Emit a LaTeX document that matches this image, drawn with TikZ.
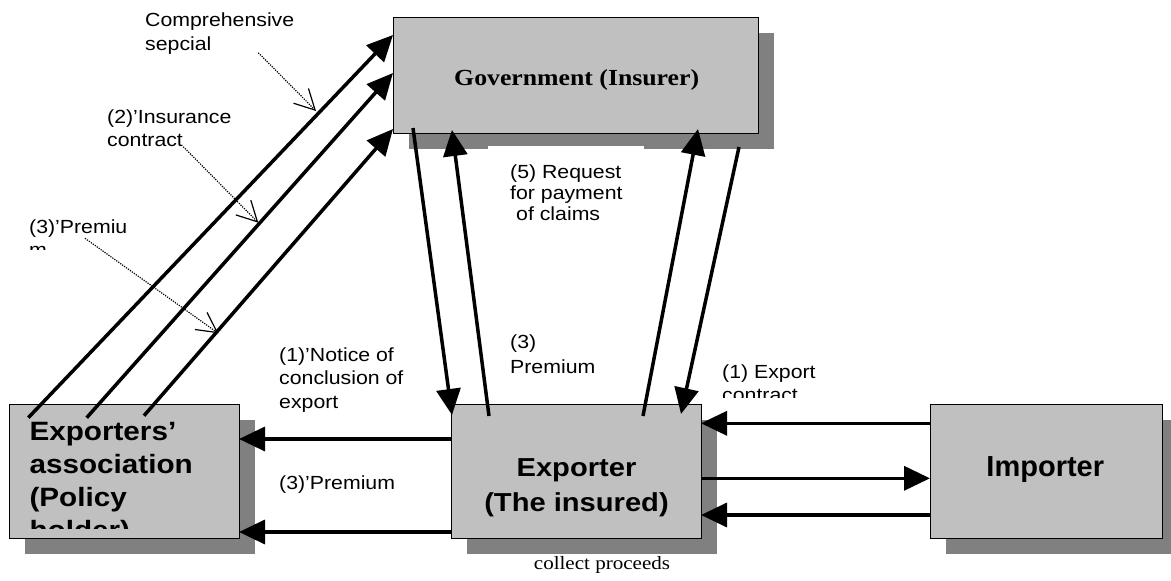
\documentclass[tikz,border=0pt]{standalone}
\usepackage{fontspec}
\setmainfont{Liberation Sans}[FakeStretch=1.12]
\newfontfamily\timesx{Liberation Serif}[FakeStretch=1.12]
\newfontfamily\arialplain{Liberation Sans}
\usetikzlibrary{arrows.meta,calc,shadows}
\definecolor{boxgray}{RGB}{192,192,192}
\definecolor{shadowgray}{RGB}{128,128,128}
\begin{document}
\begin{tikzpicture}[x=1pt,y=-1pt,
  box/.style={draw=black, line width=1pt, fill=boxgray, inner sep=0pt, outer sep=0pt,
    general shadow={fill=shadowgray, shadow xshift=16pt, shadow yshift=-16pt}},
  flow/.style={line width=3.5pt, -{Triangle[length=26pt,width=24pt]}},
  callout/.style={line width=1.2pt, dash pattern=on 1.2pt off 1.2pt, -{Straight Barb[length=20pt,width=21pt]}},
  lbl/.style={font=\fontsize{19}{23.5}\selectfont, inner sep=0pt, align=left, anchor=base west},
]
\path[use as bounding box, clip] (0,0) rectangle (1171,581);

% boxes
\node[box, minimum width=365pt, minimum height=116pt] (gov) at (575.5,75) {};
\node[box, minimum width=230pt, minimum height=134pt] (assoc) at (124,471) {};
\node[box, minimum width=250pt, minimum height=134pt] (exp) at (576,471) {};
\node[box, minimum width=232pt, minimum height=134pt] (imp) at (1046,471) {};

% white label background covering part of the shadow
\fill[white] (488,146) rectangle (644,235);

% box texts (anchor = baseline of the last line)
\node[font=\timesx\bfseries\fontsize{23}{27}\selectfont, inner sep=0pt, anchor=base] (govtext) at (576.7,85) {Government (Insurer)};
\begin{scope}
  \clip (assoc.north west) rectangle ($(assoc.south east)+(0,-10)$);
  \node[font=\bfseries\fontsize{26.5}{33}\selectfont, inner sep=0pt, align=left, anchor=base west] (assoctext) at (29.3,539.7) {Exporters’\\association\\(Policy\\holder)};
\end{scope}
\node[font=\bfseries\fontsize{26}{35.7}\selectfont, inner sep=0pt, align=center, anchor=base] (exptext) at (576.5,511.7) {Exporter\\(The insured)};
\node[font=\arialplain\bfseries\fontsize{29}{34}\selectfont, inner sep=0pt, anchor=base] (imptext) at (1045.3,476) {Importer};
\node[font=\timesx\fontsize{18.8}{22}\selectfont, inner sep=0pt, anchor=base] (collect) at (602,569) {collect proceeds};

% labels
\node[lbl] (lcomp) at (145,50.2) {Comprehensive\\sepcial};
\node[lbl] (lins) at (107,146.8) {(2)’Insurance\\contract};
\begin{scope}
  \clip (0,200) rectangle (260,249.5);
  \node[lbl] (lprem) at (29,256.8) {(3)’Premiu\\m};
\end{scope}
\node[lbl] (lnotice) at (279,408) {(1)’Notice of\\conclusion of\\export};
\node[lbl] (lprem2) at (279,489) {(3)’Premium};
\node[lbl, font=\fontsize{19}{25}\selectfont] (lprem3) at (510,373) {(3)\\Premium};
\begin{scope}
  \clip (700,340) rectangle (900,397.5);
  \node[lbl] (lexport) at (722,401.5) {(1) Export\\contract};
\end{scope}
\node[lbl, font=\fontsize{19}{21}\selectfont] (lreq) at (510,220) {(5) Request\\for payment\\\hspace*{6pt}of claims};

% callouts
\coordinate (c1a) at (258.3,52.7); \coordinate (c1b) at (316,111);
\coordinate (c2a) at (183.3,146.7); \coordinate (c2b) at (258.3,222.7);
\coordinate (c3a) at (85,238.3); \coordinate (c3b) at (218.3,333.3);
\draw[callout] (c1a) -- (c1b);
\draw[callout] (c2a) -- (c2b);
\draw[callout] (c3a) -- (c3b);

% association -> government
\draw[flow] ($(assoc.north west)+(19.3,13.7)$) -- ($(gov.north west)+(0,18)$);
\draw[flow] ($(assoc.north west)+(77.7,13.7)$) -- ($(gov.north west)+(0,56)$);
\draw[flow] ($(assoc.north west)+(135,11.7)$) -- ($(gov.north west)+(0,112)$);

% government <-> exporter
\draw[flow] ($(gov.south west)+(20,-5)$) -- ($(exp.north west)+(1,11)$);
\draw[flow] ($(exp.north west)+(38,12)$) -- ($(gov.south west)+(59,-3)$);
\draw[flow] ($(exp.north west)+(192,12)$) -- ($(gov.south west)+(305,-4)$);
\draw[flow] ($(gov.south west)+(346,14)$) -- ($(exp.north west)+(230,10)$);

% exporter -> association
\draw[flow] ($(exp.north west)+(0,35)$) -- ($(assoc.north east)+(0,35)$);
\draw[flow] ($(exp.south west)+(0,-6)$) -- ($(assoc.south east)+(0,-6)$);

% exporter <-> importer
\draw[flow] ($(imp.north west)+(0,19.3)$) -- ($(exp.north east)+(0,19.3)$);
\draw[flow] ($(exp.north east)+(0,74.3)$) -- ($(imp.north west)+(0,74.3)$);
\draw[flow] ($(imp.north west)+(0,111)$) -- ($(exp.north east)+(0,111)$);
\end{tikzpicture}
\end{document}
